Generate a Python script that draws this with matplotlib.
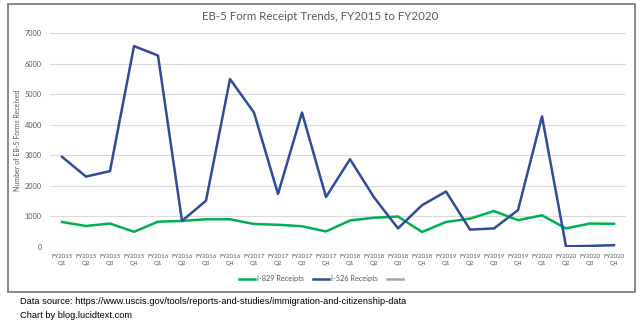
import matplotlib.pyplot as plt
from matplotlib.patches import Rectangle
from matplotlib.lines import Line2D

quarters = []
for fy in range(2015, 2021):
    for q in range(1, 5):
        quarters.append("FY%d\nQ%d" % (fy, q))

i829 = [810, 680, 760, 490, 820, 845, 900, 900,
        745, 720, 670, 500, 860, 950, 990, 483,
        810, 920, 1170, 870, 1030, 600, 760, 750]
i526 = [2950, 2300, 2480, 6580, 6270, 845, 1510, 5500,
        4400, 1730, 4400, 1630, 2870, 1620, 600, 1360,
        1810, 560, 600, 1200, 4276, 10, 25, 50]

green = '#00B050'
blue = '#2F4B99'
tick_gray = '#595959'

fig = plt.figure(figsize=(6.4, 3.24), dpi=100)
W, H = 640, 324

# chart frame
fig.patches.append(Rectangle((7.5 / W, 1 - 291.5 / H), 627 / W, 288 / H,
                             transform=fig.transFigure, fill=False,
                             edgecolor='#7F7F7F', linewidth=1.3))

ax = fig.add_axes([50 / W, 1 - 246.7 / H, 576 / W, 213.4 / H])
x = range(len(quarters))
ax.plot(x, i829, color=green, linewidth=1.8, label='I-829 Receipts')
ax.plot(x, i526, color=blue, linewidth=1.8, label='I-526 Receipts')

ax.set_xlim(-0.5, len(quarters) - 0.5)
ax.set_ylim(0, 7000)
ax.set_yticks(range(0, 7001, 1000))
ax.set_xticks(list(x))
ax.set_xticklabels(quarters, fontsize=4.4, color=tick_gray, family='Lato', linespacing=1.7)
for t in ax.get_yticklabels():
    t.set_fontsize(5.3)
    t.set_color(tick_gray)
    t.set_family('Lato')
ax.tick_params(axis='x', length=0, pad=5)
ax.tick_params(axis='y', length=0, pad=6)
ax.grid(axis='y', color='#D9D9D9', linewidth=0.8)
ax.set_axisbelow(True)
for s in ax.spines.values():
    s.set_visible(False)
ax.set_ylabel('Number of EB-5 Forms Received', fontsize=5.0, color=tick_gray,
              family='Lato')
ax.yaxis.set_label_coords(-0.05, 0.5)

fig.text(0.5, 1 - 17 / H, 'EB-5 Form Receipt Trends, FY2015 to FY2020',
         ha='center', va='center', fontsize=8.3, color='#595959', family='Lato')

handles = [Line2D([], [], color=green, linewidth=1.8),
           Line2D([], [], color=blue, linewidth=1.8),
           Line2D([], [], color='#A5A5A5', linewidth=1.8)]
fig.legend(handles, ['I-829 Receipts', 'I-526 Receipts', ''], loc='center',
           bbox_to_anchor=(322 / W, 1 - 279 / H), ncol=3, frameon=False,
           prop={'family': 'Lato', 'size': 5.3}, labelcolor=tick_gray,
           handlelength=2.2, handletextpad=0.3, columnspacing=1.2)

fig.text(20 / W, 1 - 301 / H,
         'Data source: https://www.uscis.gov/tools/reports-and-studies/immigration-and-citizenship-data',
         ha='left', va='center', fontsize=6.7, family='Liberation Sans', color='black')
fig.text(20 / W, 1 - 316 / H, 'Chart by blog.lucidtext.com',
         ha='left', va='center', fontsize=6.7, family='Liberation Sans', color='black')

fig.savefig('out.png', dpi=100)
